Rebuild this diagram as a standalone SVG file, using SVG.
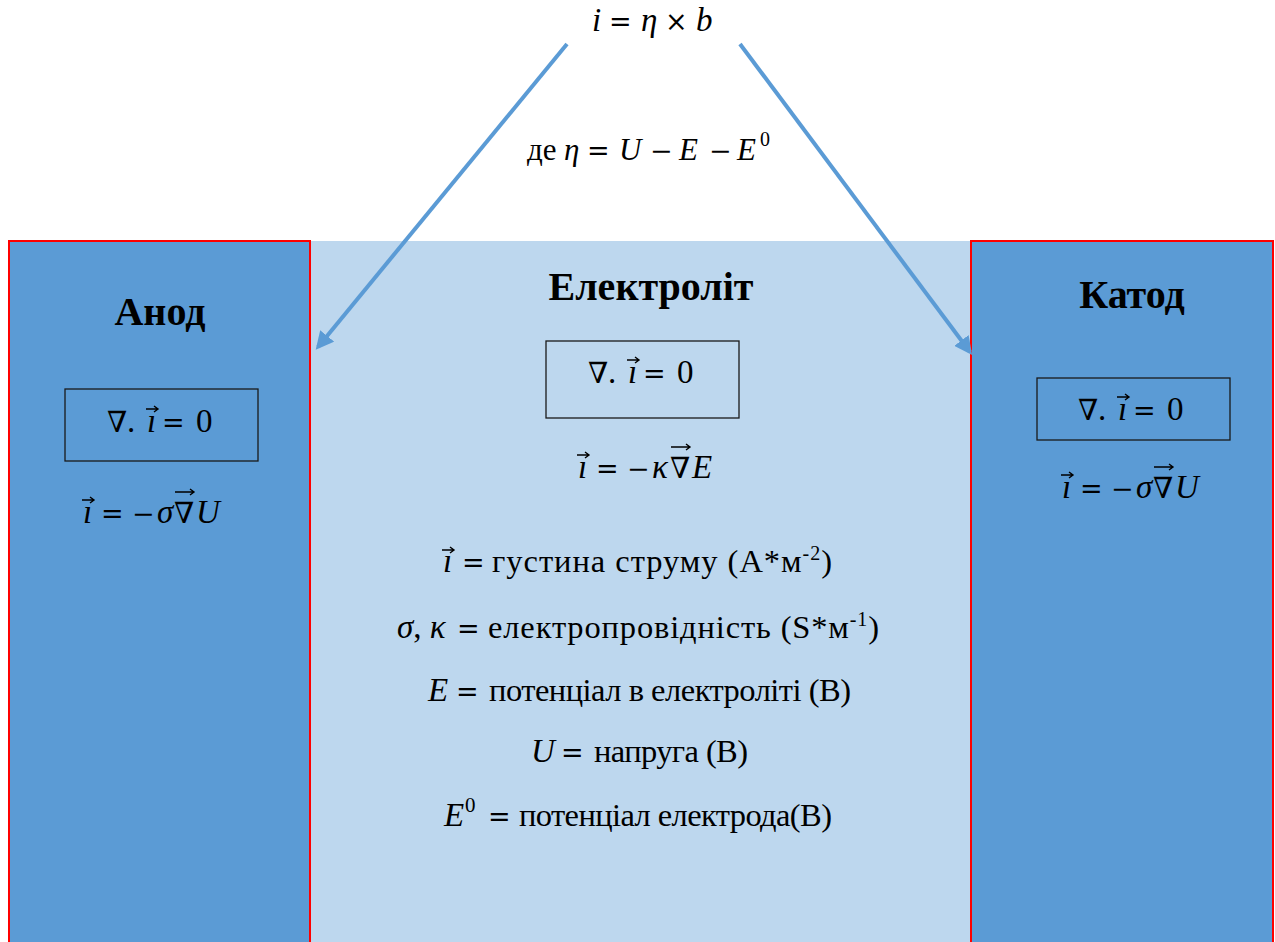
<svg xmlns="http://www.w3.org/2000/svg" width="1275" height="942" viewBox="0 0 1275 942">
<style>
text{font-family:"Liberation Serif","DejaVu Serif",serif;fill:#000;}
.m{font-size:33px;}
.n{font-family:"DejaVu Serif",serif;font-size:29px;}
.o{font-family:"DejaVu Serif",serif;font-size:27px;}
.t{font-size:33px;}
.c{font-size:32.5px;}
.i{font-style:italic;}
.s{font-size:20px;}
.h{font-size:40px;font-weight:bold;text-anchor:middle;}
.va{stroke:#000;stroke-width:1.4;fill:none;}
.fb{fill:none;stroke:#1a1a1a;stroke-width:1.3;}
.conn{stroke:#5B9BD5;stroke-width:4;fill:none;}
</style>
<defs>
<marker id="ah" viewBox="0 0 10 10" refX="8" refY="5" markerWidth="4.5" markerHeight="4.5" orient="auto" markerUnits="strokeWidth">
<path d="M0,0 L10,5 L0,10 z" fill="#5B9BD5"/>
</marker>
</defs>
<rect width="1275" height="942" fill="#fff"/>

<g id="electrolyte">
<rect x="310" y="241" width="661" height="710" fill="#BDD7EE"/>
<text class="h" x="651" y="300">Електроліт</text>
<rect class="fb" x="546" y="341" width="193" height="77"/>
<text class="n" x="588" y="383">∇</text><text class="m" x="608" y="383">.</text><text class="m i" x="628" y="383">ı</text><text class="o" x="643" y="383">=</text><text class="m" x="677" y="383">0</text>
<path class="va" d="M627,360 h12 M635,357 l4,3 l-4,3"/>
<text class="m i" x="578" y="478">ı</text><text class="o" x="596" y="478">=</text><text class="o" x="627" y="478">−</text><text class="m i" x="652" y="478">κ</text><text class="n" x="670" y="478">∇</text><text class="m i" x="692" y="478">E</text>
<path class="va" d="M577,455 h12 M585,452 l4,3 l-4,3 M671,447 h19 M686,444 l4,3 l-4,3"/>
</g>

<g id="legend">
<text class="t i" x="443" y="572">ı</text>
<path class="va" d="M442,550 h12 M450,547 l4,3 l-4,3"/>
<text class="o" x="462" y="572">=</text>
<text class="c" x="492" y="572" textLength="340">густина струму (А*м<tspan class="s" dy="-12">-2</tspan><tspan dy="12">)</tspan></text>
<text class="t i" x="397" y="638">σ<tspan font-style="normal">,</tspan> κ</text>
<text class="o" x="457" y="638">=</text>
<text class="c" x="488" y="638" textLength="391">електропровідність (S*м<tspan class="s" dy="-12">-1</tspan><tspan dy="12">)</tspan></text>
<text class="t i" x="428" y="701">E</text>
<text class="o" x="456" y="701">=</text>
<text class="c" x="489" y="701" textLength="362">потенціал в електроліті (В)</text>
<text class="t i" x="531" y="762">U</text>
<text class="o" x="561" y="762">=</text>
<text class="c" x="594" y="762" textLength="154">напруга (В)</text>
<text class="t i" x="444" y="826">E</text>
<text x="465" y="812" style="font-size:21px">0</text>
<text class="o" x="488" y="826">=</text>
<text class="c" x="519" y="826" textLength="313">потенціал електрода(В)</text>
</g>

<g id="anode">
<rect x="9" y="241" width="301" height="710" fill="#5B9BD5" stroke="#FF0000" stroke-width="2"/>
<text class="h" x="160" y="325">Анод</text>
<rect class="fb" x="65" y="389" width="193" height="72"/>
<text class="n" x="107" y="432">∇</text><text class="m" x="127" y="432">.</text><text class="m i" x="147" y="432">ı</text><text class="o" x="162" y="432">=</text><text class="m" x="196" y="432">0</text>
<path class="va" d="M146,409 h12 M154,406 l4,3 l-4,3"/>
<text class="m i" x="83" y="523">ı</text><text class="o" x="101" y="523">=</text><text class="o" x="132" y="523">−</text><text class="m i" x="157" y="523">σ</text><text class="n" x="174" y="523">∇</text><text class="m i" x="196" y="523">U</text>
<path class="va" d="M82,500 h12 M90,497 l4,3 l-4,3 M175,492 h19 M190,489 l4,3 l-4,3"/>
</g>

<g id="cathode">
<rect x="971" y="241" width="302" height="710" fill="#5B9BD5" stroke="#FF0000" stroke-width="2"/>
<text class="h" x="1132" y="308">Катод</text>
<rect class="fb" x="1037" y="378" width="193" height="62"/>
<text class="n" x="1078" y="420">∇</text><text class="m" x="1098" y="420">.</text><text class="m i" x="1118" y="420">ı</text><text class="o" x="1133" y="420">=</text><text class="m" x="1167" y="420">0</text>
<path class="va" d="M1117,397 h12 M1125,394 l4,3 l-4,3"/>
<text class="m i" x="1062" y="498">ı</text><text class="o" x="1080" y="498">=</text><text class="o" x="1111" y="498">−</text><text class="m i" x="1136" y="498">σ</text><text class="n" x="1153" y="498">∇</text><text class="m i" x="1175" y="498">U</text>
<path class="va" d="M1061,475 h12 M1069,472 l4,3 l-4,3 M1154,467 h19 M1169,464 l4,3 l-4,3"/>
</g>

<g id="equation">
<text class="m i" x="592" y="31">i</text><text class="o" x="609" y="31">=</text><text class="m i" x="641" y="31">η</text><text class="o" x="665" y="31">×</text><text class="m i" x="696" y="31">b</text>
<text style="font-size:31px" x="527" y="160">де</text><text class="i" style="font-size:31px" x="564" y="160">η</text><text class="o" x="587" y="160">=</text><text class="i" style="font-size:31px" x="619" y="160">U</text><text class="o" x="650" y="160">−</text><text class="i" style="font-size:31px" x="679" y="160">E</text><text class="o" x="709" y="160">−</text><text class="i" style="font-size:31px" x="737" y="160">E</text><text x="760" y="146" style="font-size:20px">0</text>
</g>

<g id="connectors">
<line class="conn" x1="567" y1="44" x2="318" y2="347" marker-end="url(#ah)"/>
<line class="conn" x1="740" y1="44" x2="970" y2="352" marker-end="url(#ah)"/>
</g>
</svg>
